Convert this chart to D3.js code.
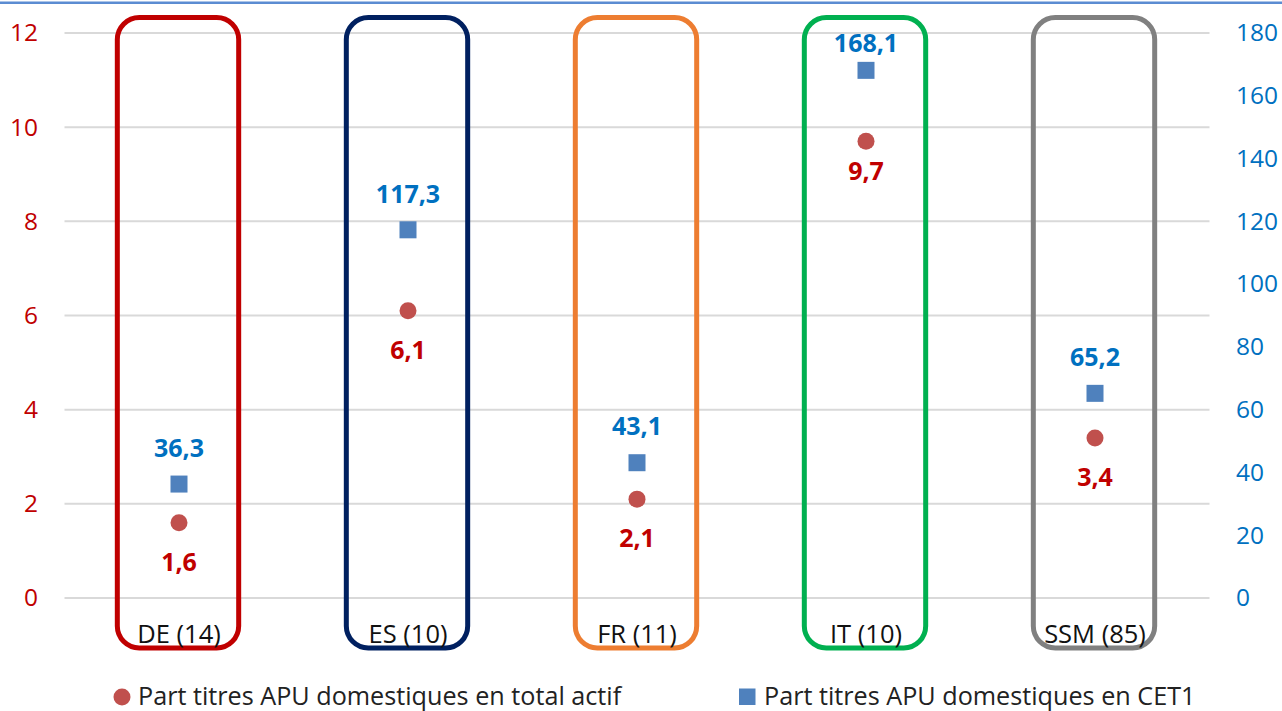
<!DOCTYPE html>
<html>
<head>
<meta charset="utf-8">
<script src="https://cdn.jsdelivr.net/npm/d3@7"></script>
<style>
  html, body { margin: 0; padding: 0; background: #fff; }
  svg { display: block; font-family: "Open Sans", sans-serif; }
</style>
</head>
<body>
<svg id="chart" width="1282" height="711"></svg>
<script>
// Banks sampled per country and holdings of domestic government securities
const categories = ["DE (14)", "ES (10)", "FR (11)", "IT (10)", "SSM (85)"];
const shareOfTotalAssets = [1.6, 6.1, 2.1, 9.7, 3.4];     // % of total assets (left axis)
const shareOfCET1 = [36.3, 117.3, 43.1, 168.1, 65.2];     // % of CET1 (right axis)
const boxColors = ["#c00000", "#002060", "#ed7d31", "#00b050", "#808080"];
const leftTicks = [0, 2, 4, 6, 8, 10, 12];
const rightTicks = [0, 20, 40, 60, 80, 100, 120, 140, 160, 180];
const seriesNames = ["Part titres APU domestiques en total actif", "Part titres APU domestiques en CET1"];

const svg = d3.select("#chart");
const W = 1282, H = 711;
const margin = { left: 64.5, right: 72.5, top: 33, bottom: 113 };

const x = d3.scaleBand().domain(categories)
  .range([margin.left, W - margin.right]).paddingInner(0).paddingOuter(0);
const yL = d3.scaleLinear().domain([0, 12]).range([H - margin.bottom, margin.top]);
const yR = d3.scaleLinear().domain([0, 180]).range([H - margin.bottom, margin.top]);

const fmt = v => d3.format(".1f")(v).replace(".", ",");
const redMark = "#c0504d", blueMark = "#4f81bd";
const redText = "#c00000", blueText = "#0070c0";

// thin frame line along the top edge
svg.append("rect").attr("x", 0).attr("y", 1.5).attr("width", W).attr("height", 2.5)
  .attr("fill", "#5b8cd2");

// horizontal gridlines on the left scale
svg.append("g").selectAll("line").data(leftTicks).join("line")
  .attr("x1", margin.left).attr("x2", W - margin.right)
  .attr("y1", d => yL(d)).attr("y2", d => yL(d))
  .attr("stroke", "#d9d9d9").attr("stroke-width", 2);

// left axis (total assets share)
const axL = svg.append("g").attr("transform", "translate(38,0)")
  .call(d3.axisLeft(yL).tickValues(leftTicks).tickSize(0).tickPadding(0).tickFormat(d3.format("d")));
axL.select(".domain").remove();
axL.selectAll("text").attr("fill", redText).attr("font-size", 24.5)
  .attr("font-family", "Open Sans, sans-serif");

// right axis (CET1 share)
const axR = svg.append("g").attr("transform", "translate(1236,0)")
  .call(d3.axisRight(yR).tickValues(rightTicks).tickSize(0).tickPadding(0).tickFormat(d3.format("d")));
axR.select(".domain").remove();
axR.selectAll("text").attr("fill", blueText).attr("font-size", 24.5)
  .attr("font-family", "Open Sans, sans-serif");

// rounded outline around each country column
const boxW = x.bandwidth() * 0.53;
const boxTop = yL(12) - 15.5, boxBottom = yL(0) + 50;
svg.append("g").selectAll("rect").data(categories).join("rect")
  .attr("x", d => x(d) + x.bandwidth() / 2 - boxW / 2 - 1)
  .attr("y", boxTop)
  .attr("width", boxW).attr("height", boxBottom - boxTop)
  .attr("rx", 22).attr("ry", 22)
  .attr("fill", "none")
  .attr("stroke", (d, i) => boxColors[i]).attr("stroke-width", 5);

// category labels inside the bottom of each outline
svg.append("g").selectAll("text").data(categories).join("text")
  .attr("x", d => x(d) + x.bandwidth() / 2)
  .attr("y", yL(0) + 45)
  .attr("text-anchor", "middle").attr("font-size", 25.5).attr("fill", "#111")
  .text(d => d);

const cx = i => x(categories[i]) + x.bandwidth() / 2;

// CET1 squares
const sq = 17;
svg.append("g").selectAll("rect").data(shareOfCET1).join("rect")
  .attr("x", (d, i) => cx(i) - sq / 2).attr("y", d => yR(d) - sq / 2)
  .attr("width", sq).attr("height", sq).attr("fill", blueMark);

// total-asset circles
svg.append("g").selectAll("circle").data(shareOfTotalAssets).join("circle")
  .attr("cx", (d, i) => cx(i)).attr("cy", d => yL(d)).attr("r", 8.5)
  .attr("fill", redMark);

// value labels: tighter spacing when a column's square sits near the top of its outline
const tight = i => yR(shareOfCET1[i]) < boxTop + 80;

svg.append("g").selectAll("text").data(shareOfCET1).join("text")
  .attr("x", (d, i) => cx(i))
  .attr("y", (d, i) => yR(d) - (tight(i) ? 27 : 36))
  .attr("dy", "0.35em")
  .attr("text-anchor", "middle").attr("font-weight", 700).attr("font-size", 25)
  .attr("fill", blueText).text(fmt);

svg.append("g").selectAll("text").data(shareOfTotalAssets).join("text")
  .attr("x", (d, i) => cx(i))
  .attr("y", (d, i) => yL(d) + (tight(i) ? 30 : 39.5))
  .attr("dy", "0.35em")
  .attr("text-anchor", "middle").attr("font-weight", 700).attr("font-size", 25)
  .attr("fill", redText).text(fmt);

// legend
const leg = svg.append("g");
leg.append("circle").attr("cx", 122).attr("cy", 697).attr("r", 8.5).attr("fill", redMark);
leg.append("text").attr("x", 138).attr("y", 704.5).attr("font-size", 25.2).attr("fill", "#222")
  .text(seriesNames[0]);
leg.append("rect").attr("x", 739).attr("y", 688.5).attr("width", 16.5).attr("height", 16.5)
  .attr("fill", blueMark);
leg.append("text").attr("x", 764).attr("y", 704.5).attr("font-size", 25.2).attr("fill", "#222")
  .text(seriesNames[1]);
</script>
</body>
</html>
